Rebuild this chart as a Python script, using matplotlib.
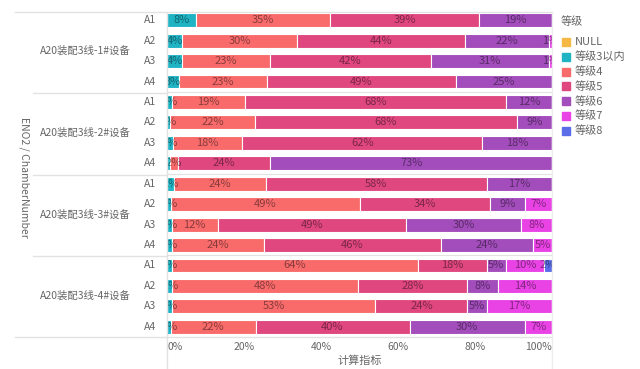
import numpy as np
import matplotlib
matplotlib.use('Agg')
import matplotlib.pyplot as plt
from matplotlib.lines import Line2D
from matplotlib.patches import Rectangle

plt.rcParams['font.family'] = ['Noto Sans CJK SC', 'DejaVu Sans']

groups = ['A20装配3线-1#设备', 'A20装配3线-2#设备', 'A20装配3线-3#设备', 'A20装配3线-4#设备']
chambers = ['A1', 'A2', 'A3', 'A4']
levels = ['NULL', '等级3以内', '等级4', '等级5', '等级6', '等级7', '等级8']
colors = ['#F5B844', '#1FB3C4', '#F96B6B', '#E0477F', '#A24DBB', '#E943E6', '#5B6CE8']

# rows top to bottom: group1 A1..A4, group2 A1..A4, ...
v_null = [0, 0, 0, 0, 0, 0, 0, 0, 0, 0, 0, 0, 0, 0, 0, 0]
v_l3 = [7.5, 4, 4, 3, 1.2, 0.8, 1.5, 0.8, 1.8, 1, 1.2, 1.2, 1.2, 1.4, 1.2, 1]
v_l4 = [35, 30, 23, 23, 19, 22, 18, 2, 24, 49, 12, 24, 64, 48, 53, 22]
v_l5 = [38.6, 44, 42, 49, 68, 68, 62, 24, 58, 34, 49, 46, 18, 28, 24, 40]
v_l6 = [19, 22, 31, 25, 12, 9, 18, 73, 17, 9, 30, 24, 5, 8, 5, 30]
v_l7 = [0, 0.8, 0.8, 0, 0, 0, 0, 0, 0, 7, 8, 5, 10, 14, 17, 7]
v_l8 = [0, 0, 0, 0, 0, 0, 0, 0, 0, 0, 0, 0, 2, 0, 0, 0]

data = np.array([v_null, v_l3, v_l4, v_l5, v_l6, v_l7, v_l8], dtype=float)
shares = data / data.sum(axis=0)

W, H = 640, 369
fig = plt.figure(figsize=(6.4, 3.69), dpi=100)
x0, x1 = 167, 552
ytop, ybot = 10, 337
ax = fig.add_axes([x0 / W, 1 - ybot / H, (x1 - x0) / W, (ybot - ytop) / H])

n = data.shape[1]
ypos = np.arange(n)
left = np.zeros(n)
for k in range(len(levels)):
    bars = ax.barh(ypos, shares[k], left=left, height=0.68, color=colors[k],
                   edgecolor='white', linewidth=0.8, label=levels[k])
    for i, b in enumerate(bars):
        # tiny slivers next to another small one get no label (as in the original)
        if data[k, i] >= 0.5 and not (data[k, i] < 1 and k + 1 < len(levels) and 0 < data[k + 1, i] < 5):
            ax.text(left[i] + shares[k, i] / 2, ypos[i], f'{data[k, i]:.0f}%',
                    ha='center', va='center', fontsize=8, color='black', alpha=0.45,
                    clip_on=True)
    left += shares[k]

ax.set_xlim(0, 1)
ax.set_ylim(n - 0.5, -0.5)
ax.set_yticks([])
ax.set_xticks([])
for s in ax.spines.values():
    s.set_visible(False)

def fx(px):
    return px / W

def fy(py):
    return 1 - py / H

line_c = '#E2E2E2'
# frame lines
fig.add_artist(Line2D([fx(15), fx(x1)], [fy(ytop + 2), fy(ytop + 2)], color=line_c, lw=1))
fig.add_artist(Line2D([fx(15), fx(x1)], [fy(ybot), fy(ybot)], color=line_c, lw=1))
fig.add_artist(Line2D([fx(x0), fx(x0)], [fy(ytop + 2), 0], color=line_c, lw=1))
fig.add_artist(Line2D([fx(x1), fx(x1)], [fy(ytop + 2), 0], color='#EDEDED', lw=1))
for g in range(1, len(groups)):
    yb = 4 * g - 0.5
    ax.plot([0, 1], [yb, yb], color=line_c, lw=0.8)
    ypx = ytop + (yb + 0.5) / n * (ybot - ytop) + 1
    fig.add_artist(Line2D([fx(33), fx(x0)], [fy(ypx), fy(ypx)], color=line_c, lw=1))

txt_c = '#666666'
for i in range(n):
    ax.text(-0.045, ypos[i], chambers[i % 4], ha='center', va='center',
            fontsize=7.5, color=txt_c)
for g, name in enumerate(groups):
    ax.text(fx(85), 1 - (ytop + (4 * g + 2) / n * (ybot - ytop)) / H, name,
            transform=fig.transFigure, ha='center', va='center', fontsize=7.5, color=txt_c)

fig.text(fx(24), fy(177), 'ENO2 / ChamberNumber', rotation=270, ha='center', va='center',
         fontsize=7.5, color=txt_c)

ticks = [0, 0.2, 0.4, 0.6, 0.8, 1.0]
tick_labels = ['0%', '20%', '40%', '60%', '80%', '100%']
for t, lab in zip(ticks, tick_labels):
    ha = 'left' if t == 0 else ('right' if t == 1 else 'center')
    fig.text(fx(x0 + t * (x1 - x0)), fy(347), lab, ha=ha, va='center', fontsize=7.5, color=txt_c)
fig.text(fx((x0 + x1) / 2), fy(361), '计算指标', ha='center', va='center', fontsize=8, color=txt_c)

# legend
fig.text(fx(561), fy(22), '等级', ha='left', va='center', fontsize=8, color=txt_c)
for k, lab in enumerate(levels):
    yy = 42 + k * 14.8
    fig.add_artist(Rectangle((fx(562), fy(yy + 4)), 8 / W, 8 / H, color=colors[k],
                             transform=fig.transFigure))
    fig.text(fx(575), fy(yy), lab, ha='left', va='center', fontsize=8, color=txt_c)

fig.savefig('out.png', dpi=100, facecolor='white')
